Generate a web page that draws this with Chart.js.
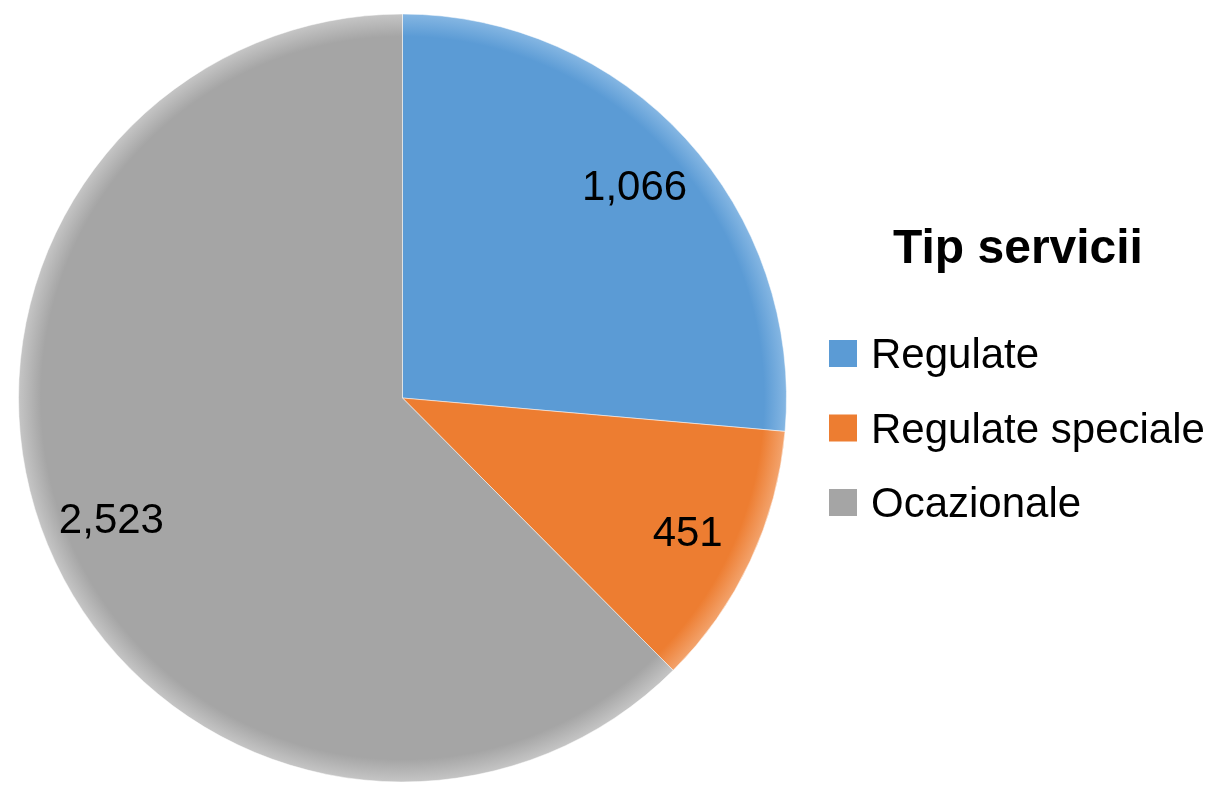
<!DOCTYPE html>
<html>
<head>
  <style>
    body {
      margin: 0;
      background-color: #ffffff;
    }
    #chartBox {
      width: 1213px;
      height: 786px;
    }
  </style>
  <script src="https://cdn.jsdelivr.net/npm/chart.js"></script>
</head>
<body>
  <div id="chartBox">
    <canvas id="myChart" width="1213" height="786"></canvas>
  </div>
  <script>
    // chart data
    const categories = ['Regulate', 'Regulate speciale', 'Ocazionale'];
    const values = [1066, 451, 2523];
    const sliceColors = ['#5B9BD5', '#ED7D31', '#A5A5A5'];
    const rimColors = ['#86B7E3', '#F3A46E', '#C6C6C6'];
    const legendTitle = 'Tip servicii';

    const fontFamily = '"Liberation Sans", Arial, sans-serif';

    // soft bevel: lighter rim toward the outer edge
    function sliceFill(context) {
      const chart = context.chart;
      const area = chart.chartArea;
      const i = context.dataIndex;
      if (!area) return sliceColors[i];
      const cx = (area.left + area.right) / 2;
      const cy = (area.top + area.bottom) / 2;
      const r = Math.min(area.width, area.height) / 2;
      const g = chart.ctx.createRadialGradient(cx, cy, 0, cx, cy, r);
      g.addColorStop(0, sliceColors[i]);
      g.addColorStop(0.94, sliceColors[i]);
      g.addColorStop(1, rimColors[i]);
      return g;
    }

    // value labels inside the slices
    const sliceLabels = {
      id: 'sliceLabels',
      afterDatasetsDraw(chart) {
        const ctx = chart.ctx;
        const meta = chart.getDatasetMeta(0);
        ctx.save();
        ctx.font = '42px ' + fontFamily;
        ctx.fillStyle = '#000000';
        ctx.textAlign = 'center';
        ctx.textBaseline = 'alphabetic';
        meta.data.forEach((arc, i) => {
          const p = arc.getProps(['x', 'y', 'startAngle', 'endAngle', 'outerRadius'], true);
          const mid = (p.startAngle + p.endAngle) / 2;
          const r = p.outerRadius * 0.82;
          const text = values[i].toLocaleString('en-US');
          ctx.fillText(text, p.x + Math.cos(mid) * r, p.y + Math.sin(mid) * r + 15);
        });
        ctx.restore();
      }
    };

    // legend on the right, drawn like the original
    const sideLegend = {
      id: 'sideLegend',
      afterDraw(chart) {
        const ctx = chart.ctx;
        ctx.save();
        ctx.fillStyle = '#000000';
        ctx.font = 'bold 48px ' + fontFamily;
        ctx.textAlign = 'center';
        ctx.textBaseline = 'alphabetic';
        ctx.fillText(legendTitle, 1018, 263);

        ctx.font = '42px ' + fontFamily;
        ctx.textAlign = 'left';
        categories.forEach((label, i) => {
          const top = 340 + i * 74.5;
          ctx.fillStyle = sliceColors[i];
          ctx.fillRect(829, top, 28, 27);
          ctx.fillStyle = '#000000';
          ctx.fillText(label, 871, top + 28);
        });
        ctx.restore();
      }
    };

    const ctx = document.getElementById('myChart').getContext('2d');
    const myChart = new Chart(ctx, {
      type: 'pie',
      data: {
        labels: categories,
        datasets: [{
          data: values,
          backgroundColor: sliceFill,
          borderColor: 'rgba(255, 255, 255, 0.5)',
          borderWidth: 1
        }]
      },
      options: {
        responsive: false,
        animation: false,
        layout: {
          padding: { left: 18, top: 13, bottom: 3, right: 426 }
        },
        plugins: {
          legend: { display: false },
          tooltip: { enabled: false }
        }
      },
      plugins: [sliceLabels, sideLegend]
    });
  </script>
</body>
</html>
